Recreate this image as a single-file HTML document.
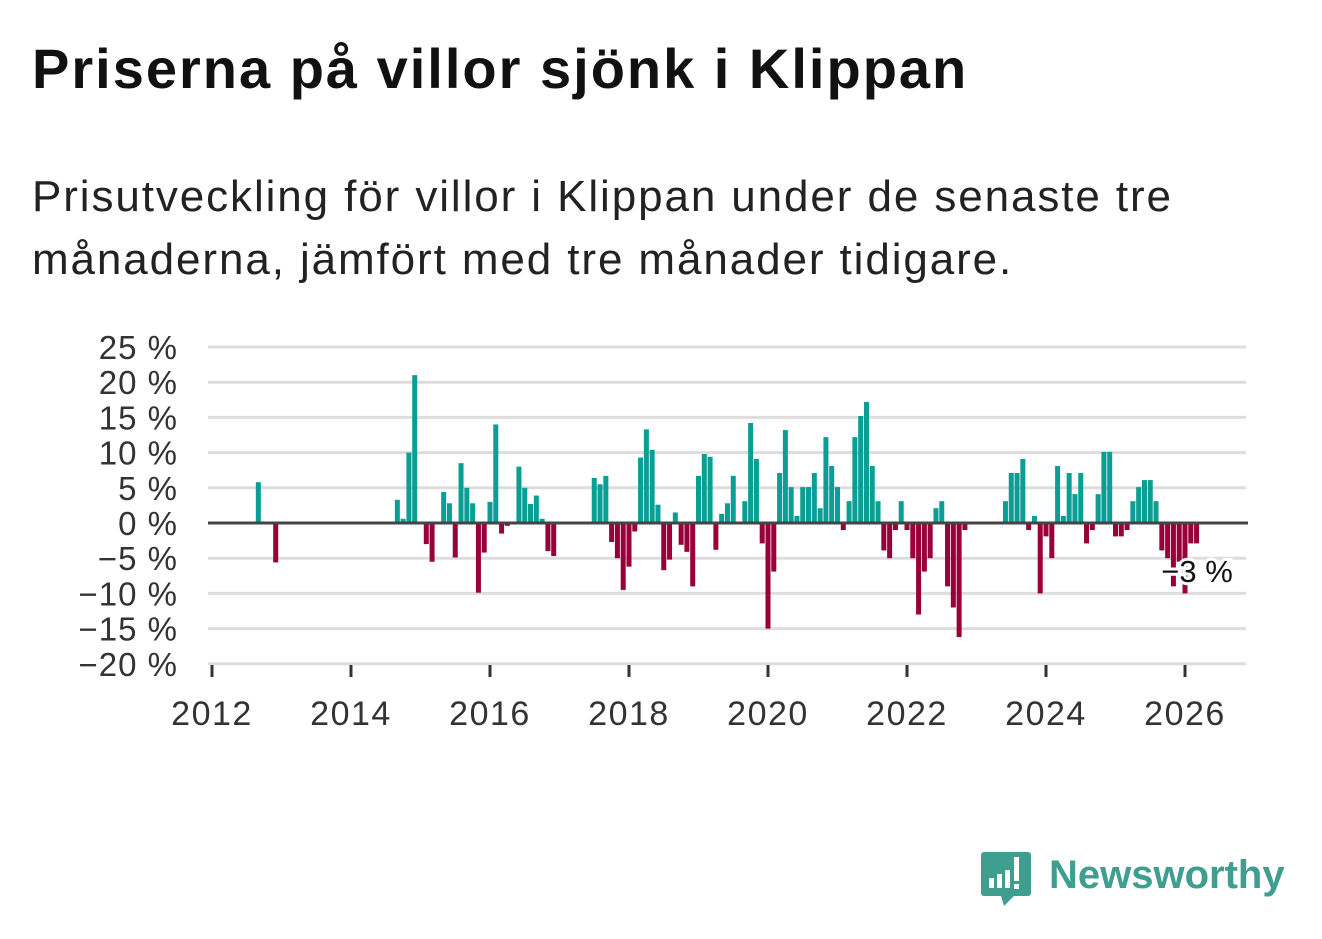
<!DOCTYPE html>
<html><head><meta charset="utf-8">
<style>
html,body{margin:0;padding:0;background:#fff;}
body{width:1322px;height:939px;position:relative;overflow:hidden;font-family:"Liberation Sans",sans-serif;}
#title{position:absolute;left:32px;top:36px;font-size:56px;letter-spacing:2px;font-weight:bold;color:#111;margin:0;white-space:nowrap;}
#subtitle{position:absolute;left:32px;top:165px;font-size:44px;letter-spacing:1.9px;line-height:63px;color:#222;width:1290px;margin:0;white-space:nowrap;}
svg{position:absolute;left:0;top:0;}
</style></head>
<body>
<h1 id="title">Priserna på villor sjönk i Klippan</h1>
<p id="subtitle">Prisutveckling för villor i Klippan under de senaste tre<br>månaderna, jämfört med tre månader tidigare.</p>
<svg id="chart" width="1322" height="939"></svg>
<svg width="1322" height="939">
  <path d="M984 852 h44 a3 3 0 0 1 3 3 v38 a3 3 0 0 1 -3 3 h-14 l-10 10 l-3 -10 h-17 a3 3 0 0 1 -3 -3 v-38 a3 3 0 0 1 3 -3z" fill="#3e9e90"/>
  <rect x="989" y="878" width="5" height="10" fill="#fff"/>
  <rect x="997" y="874" width="5" height="14" fill="#fff"/>
  <rect x="1005" y="870" width="5" height="18" fill="#fff"/>
  <rect x="1014" y="857" width="5" height="24" fill="#fff"/>
  <rect x="1014" y="884" width="5" height="5" fill="#fff"/>
  <text x="1049" y="888" font-family="Liberation Sans, sans-serif" font-size="40" font-weight="bold" fill="#3e9e90">Newsworthy</text>
</svg>
<script>
const values = [];
const nonZero = {8:5.8,11:-5.6,32:3.3,33:0.6,34:10.0,35:21,37:-3.0,38:-5.5,40:4.4,41:2.8,42:-4.9,43:8.5,44:5.0,45:2.8,46:-9.9,47:-4.2,48:3.0,49:14.0,50:-1.5,51:-0.4,53:8.0,54:5.0,55:2.7,56:3.9,57:0.6,58:-4.0,59:-4.7,
66:6.4,67:5.5,68:6.7,69:-2.7,70:-5.0,71:-9.5,72:-6.2,73:-1.2,74:9.3,75:13.3,76:10.4,77:2.6,78:-6.7,79:-5.2,80:1.5,81:-3.1,82:-4.1,83:-9.0,84:6.7,85:9.8,86:9.4,87:-3.8,88:1.3,89:2.8,90:6.7,92:3.1,93:14.2,94:9.1,95:-2.9,96:-15.0,97:-6.9,98:7.1,99:13.2,100:5.1,101:1.0,102:5.1,103:5.1,104:7.1,105:2.1,106:12.2,107:8.1,108:5.1,109:-1.0,110:3.1,111:12.2,112:15.2,113:17.2,114:8.1,115:3.1,116:-3.9,117:-5.0,118:-1.0,119:3.1,120:-1.0,121:-5.0,122:-13.0,123:-6.9,124:-5.0,125:2.1,126:3.1,127:-9.0,128:-12.0,129:-16.2,130:-1.0,
137:3.1,138:7.1,139:7.1,140:9.1,141:-1.0,142:1.0,143:-10.0,144:-1.9,145:-5.0,146:8.1,147:1.0,148:7.1,149:4.1,150:7.1,151:-2.9,152:-1.0,153:4.1,154:10.1,155:10.1,156:-1.9,157:-1.9,158:-1.0,159:3.1,160:5.1,161:6.1,162:6.1,163:3.1,164:-3.9,165:-5.0,166:-9.0,167:-5.5,168:-10.0,169:-2.9,170:-2.9};
for(let i=0;i<=170;i++) values.push(nonZero[i]||0);
const yTicks=[25,20,15,10,5,0,-5,-10,-15,-20];
const yLabels=["25 %","20 %","15 %","10 %","5 %","0 %","−5 %","−10 %","−15 %","−20 %"];
const xYears=[2012,2014,2016,2018,2020,2022,2024,2026];
const lastLabel="−3 %";

const NS="http://www.w3.org/2000/svg";
const svg=document.getElementById('chart');
const y=v=>523-v*7.04;
const x=m=>212+m*69.5/12;
function mk(t,a){const e=document.createElementNS(NS,t);for(const k in a)e.setAttribute(k,a[k]);svg.appendChild(e);return e;}
yTicks.forEach((t,i)=>{
  if(t!==0){const g=mk('line',{x1:208,x2:1246,y1:y(t),y2:y(t),stroke:'#ddd','stroke-width':3});
  
  }
  const l=mk('text',{x:178,y:y(t)+12,'text-anchor':'end','font-size':33,'letter-spacing':1,fill:'#333','font-family':'Liberation Sans, sans-serif'});
  l.textContent=yLabels[i];
  
  
});
xYears.forEach(yr=>{
  const px=x((yr-2012)*12);
  const tk=mk('line',{x1:px,x2:px,y1:665,y2:677,stroke:'#333','stroke-width':3});
  
  
  const l=mk('text',{x:px,y:725,'text-anchor':'middle','font-size':34,'letter-spacing':1.5,fill:'#333','font-family':'Liberation Sans, sans-serif'});
  l.textContent=yr;
  
  
});
values.forEach((v,m)=>{
  if(v===0)return;
  const top=Math.min(y(v),y(0)),h=Math.abs(y(v)-y(0));
  const b=mk('rect',{x:x(m)-2.5,y:top,width:5,height:h,fill:v>0?'#0a9e94':'#99003a'});
  
  
});
const z=mk('line',{x1:208,x2:1248,y1:y(0),y2:y(0),stroke:'#444','stroke-width':3});


const lbl=mk('text',{x:1197,y:582,'text-anchor':'middle','font-size':31,fill:'#111',stroke:'#fff','stroke-width':6,'paint-order':'stroke','font-family':'Liberation Sans, sans-serif'});
lbl.textContent=lastLabel;


</script>
</body></html>
